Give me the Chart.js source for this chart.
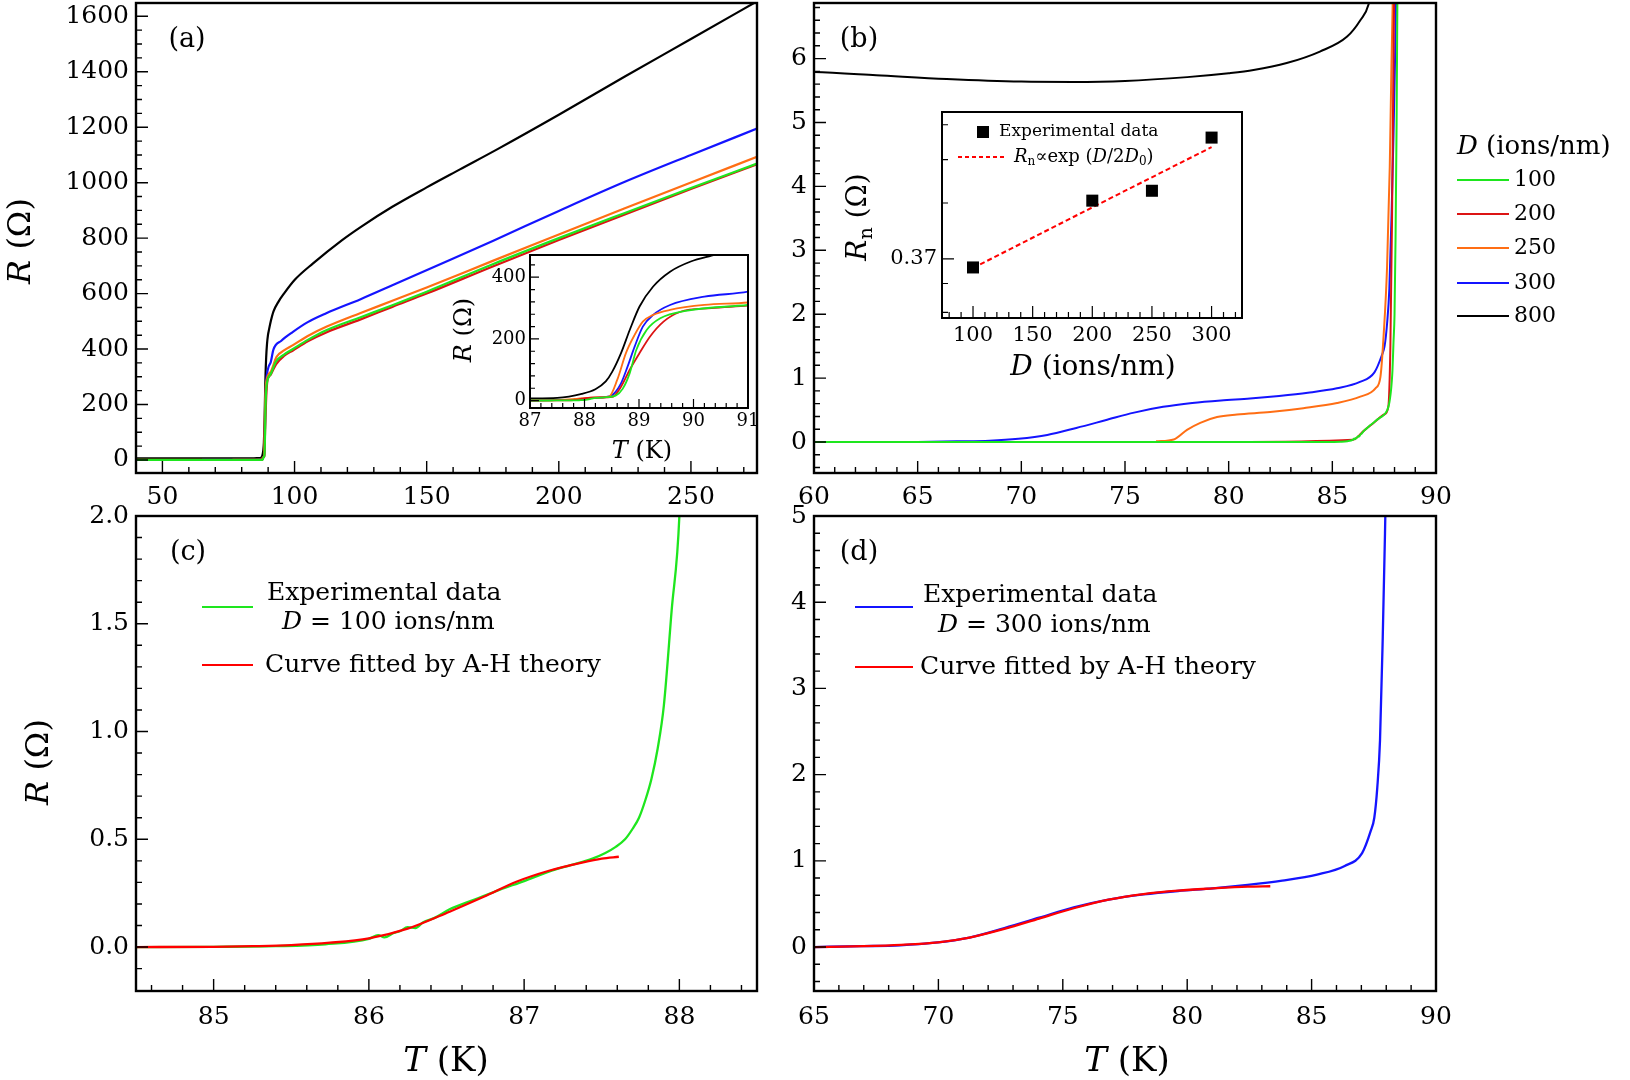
<!DOCTYPE html>
<html>
<head>
<meta charset="utf-8">
<script src="https://cdn.jsdelivr.net/npm/chart.js@4.4.1/dist/chart.umd.min.js"></script>
<style>
  body { margin: 0; background: #fff; }
  #page { position: relative; width: 1630px; height: 1080px; overflow: hidden; background: #fff; }
  canvas { position: absolute; }
</style>
</head>
<body>
<div id="page">
  <canvas id="pa" width="780" height="520" style="left:0;top:0"></canvas>
  <canvas id="pb" width="850" height="520" style="left:780px;top:0"></canvas>
  <canvas id="pc" width="780" height="580" style="left:0;top:500px"></canvas>
  <canvas id="pd" width="850" height="580" style="left:780px;top:500px"></canvas>
  <canvas id="ia" width="320" height="230" style="left:440px;top:245px"></canvas>
  <canvas id="ib" width="430" height="290" style="left:830px;top:100px"></canvas>
</div>
<script>
// R(T) curves, one per ion fluence D (ions/nm); shared by (a), its inset and (b)
const tempG100 = [40, 60, 70, 80, 84.5, 85.0, 85.4, 85.72, 86.0, 86.06, 86.1, 86.16, 86.2, 86.25, 86.3, 86.35, 86.42, 86.52, 86.68, 86.84, 87.0, 87.16, 87.3, 87.44, 87.52, 87.59, 87.65, 87.7, 87.74, 87.78, 87.82, 87.86, 87.9, 87.95, 88.0, 88.05, 88.1, 88.15, 88.25, 88.4, 88.57, 88.7, 88.83, 88.95, 89.14, 89.39, 89.89, 91, 93, 96, 99.4, 105, 112, 125, 137, 150, 175, 200, 225, 250, 275];
const resG100 = [0, 0, 0, 0, 0, 0.001, 0.004, 0.013, 0.038, 0.055, 0.045, 0.065, 0.073, 0.092, 0.088, 0.115, 0.134, 0.175, 0.22, 0.265, 0.306, 0.35, 0.38, 0.41, 0.435, 0.465, 0.5, 0.55, 0.6, 0.68, 0.78, 0.92, 1.12, 1.56, 2.0, 3.2, 5.0, 7.5, 9, 11, 16, 38, 89, 164, 229, 267, 292, 310, 355, 380, 400, 433, 468, 515, 558, 607, 706, 800, 891, 981, 1069];

const tempR200 = [40, 60, 80, 86, 86.5, 87, 87.5, 87.7, 87.8, 87.88, 87.95, 88.02, 88.3, 88.51, 88.67, 88.83, 89.01, 89.2, 89.45, 89.76, 90.33, 91, 93, 96, 99.4, 105, 112, 125, 137, 150, 175, 200, 225, 250, 275];
const resR200 = [0, 0, 0, 0.035, 0.17, 0.3, 0.43, 0.55, 1.5, 3.5, 6, 8, 10, 12, 45, 100, 154, 207, 256, 288, 300, 308, 345, 375, 395, 428, 460, 507, 552, 600, 698, 793, 885, 977, 1066];

const tempO250 = [76.5, 77.35, 77.99, 78.63, 79.44, 80.4, 82.0, 83.6, 85.23, 86.35, 87.08, 87.32, 87.48, 87.64, 87.77, 87.85, 87.92, 88.0, 88.2, 88.45, 88.6, 88.76, 88.92, 89.07, 89.26, 89.57, 90.2, 91, 93.2, 96, 99.4, 105, 112, 125, 137, 150, 175, 200, 225, 250, 275];
const resO250 = [0.01, 0.04, 0.19, 0.30, 0.39, 0.43, 0.47, 0.53, 0.61, 0.71, 0.84, 1.02, 1.70, 2.74, 4.31, 5.87, 7.0, 8, 10, 13, 67, 154, 213, 256, 278, 294, 310, 318, 372, 395, 414, 447, 480, 530, 574, 622, 718, 813, 908, 1001, 1093];

const tempB300 = [65, 66.9, 68.46, 69.86, 71.25, 72.65, 74.05, 75.44, 76.84, 78.24, 79.63, 81.03, 82.43, 83.82, 85.22, 86.33, 87.03, 87.38, 87.52, 87.64, 87.75, 87.86, 87.95, 88.02, 88.08, 88.2, 88.4, 88.51, 88.67, 88.79, 88.92, 89.07, 89.26, 89.57, 90.2, 91, 92, 95, 99.4, 105, 112, 125, 137, 151, 175, 200, 225, 250, 275];
const resB300 = [0, 0.01, 0.02, 0.05, 0.11, 0.22, 0.34, 0.46, 0.55, 0.61, 0.65, 0.68, 0.72, 0.77, 0.84, 0.94, 1.09, 1.35, 1.5, 1.85, 2.4, 3.6, 4.8, 5.9, 7.0, 9, 12, 18, 56, 110, 175, 240, 278, 310, 337, 353, 398, 430, 462, 497, 529, 580, 630, 689, 790, 898, 1003, 1100, 1195];

const tempK800 = [40, 50, 60, 63, 66.4, 70, 72.5, 75, 78, 80, 81.2, 82.8, 84.4, 85.7, 86.35, 86.75, 87.0, 87.5, 87.95, 88.2, 88.39, 88.51, 88.67, 88.83, 89.01, 89.26, 89.57, 89.95, 90.33, 91, 92, 94, 96, 100, 107, 118, 125, 137, 150, 162.6, 177, 200, 225, 250, 275];
const resK800 = [5.95, 5.88, 5.79, 5.74, 5.68, 5.64, 5.635, 5.65, 5.71, 5.77, 5.82, 5.93, 6.11, 6.34, 6.6, 6.85, 7.3, 9, 22, 37, 62, 94, 154, 229, 305, 370, 418, 451, 470, 500, 535, 572, 600, 649, 709, 793, 840, 913, 983, 1048, 1122, 1245, 1383, 1518, 1654];

// A-H theory fits
const tempFitC = [84.5, 85.0, 85.25, 85.5, 85.75, 86.0, 86.25, 86.52, 86.74, 86.95, 87.16, 87.38, 87.5, 87.61];
const resFitC = [0, 0.001, 0.004, 0.009, 0.02, 0.04, 0.085, 0.164, 0.233, 0.303, 0.354, 0.393, 0.41, 0.419];
const tempFitD = [65, 67, 68.5, 70, 71.25, 72.65, 74.05, 75.44, 76.84, 78.24, 79.63, 81.03, 82.43, 83.34];
const resFitD = [0, 0.01, 0.025, 0.055, 0.11, 0.21, 0.33, 0.45, 0.55, 0.615, 0.655, 0.68, 0.70, 0.705];

// normal-state resistance vs D (inset of b)
const dIons = [100, 200, 250, 300];
const rnMeasured = [0.354, 0.499, 0.525, 0.690];
const dFit = [100, 200, 300];
const rnFit = [0.353, 0.482, 0.657];

const seriesLabels = ['100', '200', '250', '300', '800'];
const seriesColors = ['rgb(30,230,30)', 'rgb(220,20,20)', 'rgb(255,110,20)', 'rgb(20,20,255)', '#000'];

// tick values and labels
const ticksAx = [50, 100, 150, 200, 250];
const ticksAy = [0, 200, 400, 600, 800, 1000, 1200, 1400, 1600];
const ticksBx = [60, 65, 70, 75, 80, 85, 90];
const ticksBy = [0, 1, 2, 3, 4, 5, 6];
const ticksCx = [85, 86, 87, 88];
const ticksCy = [0, 0.5, 1, 1.5, 2];
const labelsCy = ['0.0', '0.5', '1.0', '1.5', '2.0'];
const ticksDx = [65, 70, 75, 80, 85, 90];
const ticksDy = [0, 1, 2, 3, 4, 5];
const ticksIAx = [87, 88, 89, 90, 91];
const ticksIAy = [0, 200, 400];
const ticksIBx = [100, 150, 200, 250, 300];
const ticksIBy = [0.37];
const minorIBy = [0.281, 0.326, 0.493, 0.616, 0.737];

const FONT = '"DejaVu Serif"';
Chart.defaults.font.family = FONT;
Chart.defaults.color = '#000';

const DECOR = {};

function pts(xs, ys) { return xs.map((x, i) => ({ x, y: ys[i] })); }
function multiples(min, max, step) {
  const out = [];
  for (let k = Math.ceil(min / step - 1e-9); k * step <= max + 1e-9; k++) out.push(+(k * step).toFixed(6));
  return out;
}
const R = t => ({ t });
const I = t => ({ t, i: true });
const S = t => ({ t, sub: true });

function drawRich(c, t, ox, oy) {
  const sub = Math.round(t.size * 0.68);
  const fontOf = r => (r.i ? 'italic ' : '') + (r.sub ? sub : t.size) + 'px ' + FONT;
  let w = 0;
  t.runs.forEach(r => { c.font = fontOf(r); w += c.measureText(r.t).width; });
  c.save();
  c.translate(t.x - ox, t.y - oy);
  if (t.rot) c.rotate(-Math.PI / 2);
  c.fillStyle = '#000';
  c.textBaseline = 'middle';
  c.textAlign = 'left';
  let x = t.align === 'left' ? 0 : -w / 2;
  t.runs.forEach(r => {
    c.font = fontOf(r);
    c.fillText(r.t, x, r.sub ? t.size * 0.28 : 0);
    x += c.measureText(r.t).width;
  });
  c.restore();
}

const decor = {
  id: 'decor',
  beforeDatasetsDraw(chart) {
    const o = DECOR[chart.canvas.id];
    if (!o.fillArea) return;
    const a = chart.chartArea, c = chart.ctx;
    c.save();
    c.fillStyle = '#fff';
    c.fillRect(a.left, a.top, a.right - a.left, a.bottom - a.top);
    c.restore();
  },
  afterDraw(chart) {
    const o = DECOR[chart.canvas.id];
    const c = chart.ctx, a = chart.chartArea, sx = chart.scales.x, sy = chart.scales.y;
    c.save();
    c.strokeStyle = '#000';
    c.lineWidth = o.tickWidth;
    c.beginPath();
    const markX = (v, len) => {
      const p = sx.getPixelForValue(v);
      if (p < a.left + 1 || p > a.right - 1) return;
      c.moveTo(p, a.bottom); c.lineTo(p, a.bottom - len);
    };
    const markY = (v, len) => {
      const p = sy.getPixelForValue(v);
      if (p < a.top + 1 || p > a.bottom - 1) return;
      c.moveTo(a.left, p); c.lineTo(a.left + len, p);
    };
    o.xMinor.forEach(v => markX(v, o.minor));
    o.xMajor.forEach(v => markX(v, o.major));
    o.yMinor.forEach(v => markY(v, o.minor));
    o.yMajor.forEach(v => markY(v, o.major));
    c.stroke();
    c.lineWidth = o.frameWidth;
    c.strokeRect(a.left, a.top, a.right - a.left, a.bottom - a.top);
    (o.lines || []).forEach(l => {
      c.beginPath();
      c.strokeStyle = l.color;
      c.lineWidth = l.w;
      c.setLineDash(l.dash || []);
      c.moveTo(l.x1 - o.ox, l.y - o.oy);
      c.lineTo(l.x2 - o.ox, l.y - o.oy);
      c.stroke();
    });
    c.setLineDash([]);
    (o.squares || []).forEach(q => {
      c.fillStyle = '#000';
      c.fillRect(q.x - o.ox - q.s / 2, q.y - o.oy - q.s / 2, q.s, q.s);
    });
    (o.texts || []).forEach(t => drawRich(c, t, o.ox, o.oy));
    c.restore();
  }
};

function line(xs, ys, color, width, extra) {
  return Object.assign({
    data: pts(xs, ys), borderColor: color, borderWidth: width, pointRadius: 0,
    cubicInterpolationMode: 'monotone', fill: false, borderJoinStyle: 'round'
  }, extra || {});
}

function axis(pos, type, min, max, ticks, labels, size, pad, fit) {
  return {
    type, position: pos, min, max,
    grid: { display: false, drawTicks: false },
    border: { display: false },
    afterBuildTicks: s => { s.ticks = ticks.map(v => ({ value: v })); },
    afterFit: s => {
      fit(s);
      s.paddingTop = 0; s.paddingBottom = 0; s.paddingLeft = 0; s.paddingRight = 0;
    },
    ticks: {
      autoSkip: false, maxRotation: 0, minRotation: 0, padding: pad, color: '#000',
      font: { size, family: FONT },
      callback: (v, i) => labels[i]
    }
  };
}

function panel(id, p) {
  const cv = document.getElementById(id);
  const W = cv.width, H = cv.height;
  DECOR[id] = p.decor;
  return new Chart(cv, {
    type: 'line',
    data: { datasets: p.datasets },
    options: {
      responsive: false, animation: false, events: [],
      layout: { padding: { left: 0, top: p.area[1], right: W - p.area[2], bottom: 0 } },
      scales: {
        x: axis('bottom', 'linear', p.x[0], p.x[1], p.xt, p.xl || p.xt.map(String), p.fs, p.xpad, s => { s.height = H - p.area[3]; }),
        y: axis('left', p.yType || 'linear', p.y[0], p.y[1], p.yt, p.yl || p.yt.map(String), p.fs, p.ypad, s => { s.width = p.area[0]; })
      },
      plugins: { legend: { display: false }, tooltip: { enabled: false } }
    },
    plugins: [decor]
  });
}

function curveSet(w) {
  return [
    line(tempG100, resG100, seriesColors[0], w),
    line(tempR200, resR200, seriesColors[1], w),
    line(tempO250, resO250, seriesColors[2], w),
    line(tempB300, resB300, seriesColors[3], w),
    line(tempK800, resK800, seriesColors[4], w)
  ];
}

const ROhm = [I('R'), R(' ('), R('Ω'), R(')')];
const TK = [I('T'), R(' (K)')];

// (a) full R(T)
panel('pa', {
  area: [136, 3, 757, 473], x: [40, 275], y: [-47, 1648],
  xt: ticksAx, yt: ticksAy, fs: 25, xpad: 9, ypad: 7,
  datasets: curveSet(2.2),
  decor: {
    ox: 0, oy: 0, tickWidth: 1.4, frameWidth: 2.4, major: 12, minor: 6,
    xMajor: ticksAx, xMinor: multiples(40, 275, 10), yMajor: ticksAy, yMinor: multiples(-47, 1648, 50),
    texts: [
      { x: 187, y: 40, size: 27, runs: [R('(a)')] },
      { x: 22, y: 241, size: 32, rot: true, runs: ROhm }
    ]
  }
});

// (b) low-temperature tails
panel('pb', {
  area: [34, 3, 656, 473], x: [60, 90], y: [-0.485, 6.87],
  xt: ticksBx, yt: ticksBy, fs: 25, xpad: 9, ypad: 7,
  datasets: curveSet(2.0),
  decor: {
    ox: 780, oy: 0, tickWidth: 1.4, frameWidth: 2.4, major: 12, minor: 6,
    xMajor: ticksBx, xMinor: multiples(60, 90, 1), yMajor: ticksBy, yMinor: multiples(-0.485, 6.87, 0.2),
    lines: seriesLabels.map((s, i) => ({ x1: 1457, x2: 1509, y: [180, 214, 248, 283, 316][i], color: seriesColors[i], w: 2.2 })),
    texts: [
      { x: 859, y: 40, size: 27, runs: [R('(b)')] },
      { x: 1457, y: 147, size: 26, align: 'left', runs: [I('D'), R(' (ions/nm)')] }
    ].concat(seriesLabels.map((s, i) => ({ x: 1514, y: [180, 214, 248, 283, 316][i], size: 22, align: 'left', runs: [R(s)] })))
  }
});

// (c) D = 100 with fit
panel('pc', {
  area: [136, 16, 757, 491], x: [84.5, 88.5], y: [-0.204, 2.0],
  xt: ticksCx, yt: ticksCy, yl: labelsCy, fs: 25, xpad: 11, ypad: 7,
  datasets: [
    line(tempFitC, resFitC, 'rgb(255,0,0)', 2.3),
    line(tempG100, resG100, seriesColors[0], 2.3)
  ],
  decor: {
    ox: 0, oy: 500, tickWidth: 1.4, frameWidth: 2.4, major: 12, minor: 6,
    xMajor: ticksCx, xMinor: multiples(84.5, 88.5, 0.2), yMajor: ticksCy, yMinor: multiples(-0.204, 2.0, 0.1),
    lines: [
      { x1: 202, x2: 253, y: 607, color: seriesColors[0], w: 2.2 },
      { x1: 202, x2: 253, y: 665, color: 'rgb(255,0,0)', w: 2.2 }
    ],
    texts: [
      { x: 188, y: 553, size: 27, runs: [R('(c)')] },
      { x: 40, y: 762, size: 32, rot: true, runs: ROhm },
      { x: 446, y: 1062, size: 34, runs: TK },
      { x: 267, y: 593, size: 25, align: 'left', runs: [R('Experimental data')] },
      { x: 282, y: 622, size: 25, align: 'left', runs: [I('D'), R(' = 100 ions/nm')] },
      { x: 265, y: 665, size: 25, align: 'left', runs: [R('Curve fitted by A-H theory')] }
    ]
  }
});

// (d) D = 300 with fit
panel('pd', {
  area: [34, 16, 656, 491], x: [65, 90], y: [-0.51, 5],
  xt: ticksDx, yt: ticksDy, fs: 25, xpad: 11, ypad: 7,
  datasets: [
    line(tempFitD, resFitD, 'rgb(255,0,0)', 2.3),
    line(tempB300, resB300, seriesColors[3], 2.3)
  ],
  decor: {
    ox: 780, oy: 500, tickWidth: 1.4, frameWidth: 2.4, major: 12, minor: 6,
    xMajor: ticksDx, xMinor: multiples(65, 90, 1), yMajor: ticksDy, yMinor: multiples(-0.51, 5, 0.2),
    lines: [
      { x1: 855, x2: 913, y: 607, color: seriesColors[3], w: 2.2 },
      { x1: 855, x2: 913, y: 667, color: 'rgb(255,0,0)', w: 2.2 }
    ],
    texts: [
      { x: 859, y: 553, size: 27, runs: [R('(d)')] },
      { x: 1127, y: 1062, size: 34, runs: TK },
      { x: 923, y: 595, size: 25, align: 'left', runs: [R('Experimental data')] },
      { x: 938, y: 625, size: 25, align: 'left', runs: [I('D'), R(' = 300 ions/nm')] },
      { x: 920, y: 667, size: 25, align: 'left', runs: [R('Curve fitted by A-H theory')] }
    ]
  }
});

// inset of (a): transition region
panel('ia', {
  area: [90, 10, 308, 163], x: [87, 91], y: [-24, 472],
  xt: ticksIAx, yt: ticksIAy, fs: 18, xpad: 3, ypad: 4,
  datasets: curveSet(1.8),
  decor: {
    ox: 440, oy: 245, fillArea: true, tickWidth: 1.2, frameWidth: 2, major: 9, minor: 5,
    xMajor: ticksIAx, xMinor: multiples(87, 91, 0.2), yMajor: ticksIAy, yMinor: multiples(-24, 472, 40),
    texts: [
      { x: 465, y: 330, size: 24, rot: true, runs: ROhm },
      { x: 642, y: 452, size: 24, runs: TK }
    ]
  }
});

// inset of (b): Rn vs D
panel('ib', {
  area: [112, 12, 412, 218], x: [74, 325.5], y: [0.273, 0.787], yType: 'logarithmic',
  xt: ticksIBx, yt: ticksIBy, yl: ['0.37'], fs: 21, xpad: 5, ypad: 5,
  datasets: [
    { data: pts(dIons, rnMeasured), showLine: false, pointStyle: 'rect', pointRadius: 8.5, pointBackgroundColor: '#000', pointBorderWidth: 0, borderColor: '#000' },
    { data: pts(dFit, rnFit), borderColor: 'rgb(255,0,0)', borderWidth: 2, borderDash: [5, 3], pointRadius: 0, tension: 0, fill: false }
  ],
  decor: {
    ox: 830, oy: 100, fillArea: true, tickWidth: 1.2, frameWidth: 2, major: 12, minor: 6,
    xMajor: ticksIBx, xMinor: multiples(74, 325.5, 10), yMajor: ticksIBy, yMinor: minorIBy,
    lines: [{ x1: 958, x2: 1007, y: 157, color: 'rgb(255,0,0)', w: 2, dash: [4, 3] }],
    squares: [{ x: 983, y: 132, s: 12 }],
    texts: [
      { x: 859, y: 217, size: 28, rot: true, runs: [I('R'), S('n'), R(' ('), R('Ω'), R(')')] },
      { x: 1093, y: 368, size: 28, runs: [I('D'), R(' (ions/nm)')] },
      { x: 999, y: 132, size: 17, align: 'left', runs: [R('Experimental data')] },
      { x: 1014, y: 157, size: 18, align: 'left', runs: [I('R'), S('n'), R('∝exp ('), I('D'), R('/2'), I('D'), S('0'), R(')')] }
    ]
  }
});
</script>
</body>
</html>
